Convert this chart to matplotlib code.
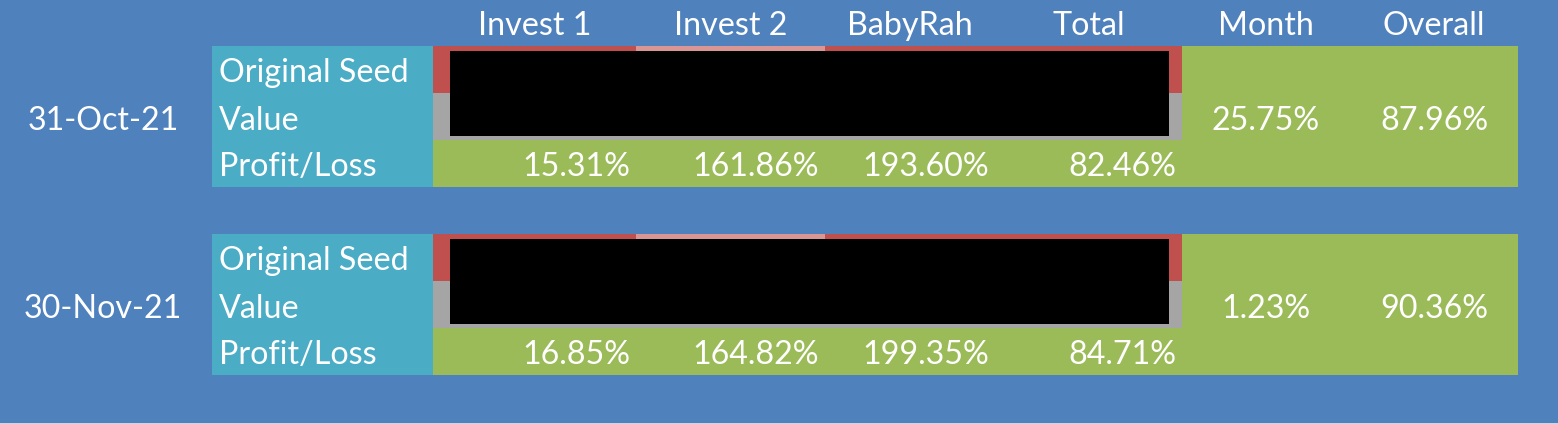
import matplotlib
matplotlib.use("Agg")
import matplotlib.pyplot as plt
from matplotlib.patches import Rectangle

# ---- data ----
columns = ["Invest 1", "Invest 2", "BabyRah", "Total"]
summary_columns = ["Month", "Overall"]
row_labels = ["Original Seed", "Value", "Profit/Loss"]
dates = ["31-Oct-21", "30-Nov-21"]
profit_loss = [
    [15.31, 161.86, 193.60, 82.46],
    [16.85, 164.82, 199.35, 84.71],
]
month_pct = [25.75, 1.23]
overall_pct = [87.96, 90.36]

# ---- style ----
BG = "#4F81BD"
CYAN = "#4BACC6"
RED = "#C0504D"
PINK = "#DA9694"
GRAY = "#A5A5A5"
GREEN = "#9BBB59"
FONT = ["Lato", "DejaVu Sans"]
FS = 23.2

W, H = 1558, 424
fig = plt.figure(figsize=(W / 100, H / 100), dpi=100)
fig.patch.set_facecolor(BG)
ax = fig.add_axes([0, 0, 1, 1])
ax.set_xlim(0, W)
ax.set_ylim(H, 0)
ax.axis("off")

col_edges = [433, 636, 825, 995, 1182]
sum_edges = [1182, 1350, 1518]
label_x0 = 212
block_tops = [46, 234]
row_h = 47
strip_colors = [RED, PINK, RED, RED]
DY = 4


def rect(x0, y0, x1, y1, c):
    ax.add_patch(Rectangle((x0, y0), x1 - x0, y1 - y0, facecolor=c, edgecolor="none"))


def txt(x, y, s, ha="center"):
    ax.text(x, y, s, ha=ha, va="center", color="white", fontsize=FS, family=FONT)


# faint light line at the very bottom
rect(0, 423, W, 424, "#C9D6E8")

# headers
for i, name in enumerate(columns):
    txt((col_edges[i] + col_edges[i + 1]) / 2, 26, name)
for i, name in enumerate(summary_columns):
    txt((sum_edges[i] + sum_edges[i + 1]) / 2, 26, name)

for b, top in enumerate(block_tops):
    bottom = top + 3 * row_h
    r1 = top + row_h
    r2 = top + 2 * row_h
    # label area
    rect(label_x0, top, col_edges[0], bottom, CYAN)
    # top strips per column
    for i in range(len(columns)):
        rect(col_edges[i], top, col_edges[i + 1], r1, strip_colors[i])
    # gray band (value row)
    rect(col_edges[0], r1, col_edges[-1], r2, GRAY)
    # black masked area
    rect(col_edges[0] + 17, top + 5, col_edges[-1] - 13, r2 - 4, "black")
    # profit/loss row
    rect(col_edges[0], r2, col_edges[-1], bottom, GREEN)
    # summary area
    rect(sum_edges[0], top, sum_edges[-1], bottom, GREEN)

    # texts
    txt(103, top + 1.5 * row_h + DY, dates[b])
    for k, lab in enumerate(row_labels):
        txt(219, top + (k + 0.5) * row_h + DY, lab, ha="left")
    for i, v in enumerate(profit_loss[b]):
        txt(col_edges[i + 1] - 6, top + 2.5 * row_h + DY, f"{v:.2f}%", ha="right")
    txt((sum_edges[0] + sum_edges[1]) / 2, top + 1.5 * row_h + DY, f"{month_pct[b]:.2f}%")
    txt((sum_edges[1] + sum_edges[2]) / 2, top + 1.5 * row_h + DY, f"{overall_pct[b]:.2f}%")

fig.savefig("out.png", dpi=100, facecolor=BG)
